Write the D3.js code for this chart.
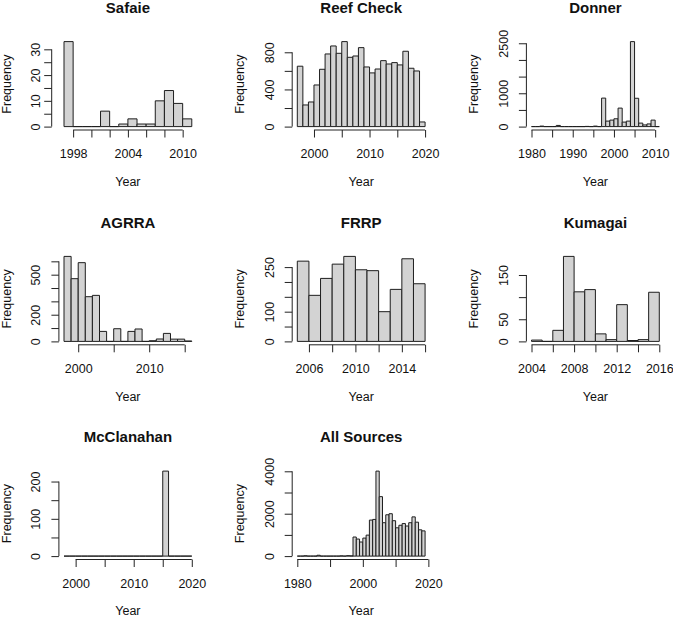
<!DOCTYPE html>
<html><head><meta charset="utf-8">
<script src="https://cdn.jsdelivr.net/npm/d3@7"></script>
<style>
body{margin:0;background:#fff}
svg{display:block}
text{font-family:"Liberation Sans",Arial,Helvetica,sans-serif;fill:#111}
</style>
</head><body>
<svg id="chart" width="673" height="618"></svg>
<script>
// ---------- data (bin start years and counts, 1-year bins) ----------
const titles = ["Safaie","Reef Check","Donner","AGRRA","FRRP","Kumagai","McClanahan","All Sources"];

const safaieYears  = [1997,1998,1999,2000,2001,2002,2003,2004,2005,2006,2007,2008,2009,2010];
const safaieCounts = [33,0,0,0,6,0,1,3,1,1,10,14,9,3];

const reefYears  = [1997,1998,1999,2000,2001,2002,2003,2004,2005,2006,2007,2008,2009,2010,2011,2012,2013,2014,2015,2016,2017,2018,2019];
const reefCounts = [650,233,265,448,617,782,868,789,915,746,760,850,642,578,620,710,674,689,664,811,628,599,50];

const donnerYears  = [1980,1981,1982,1983,1984,1985,1986,1987,1988,1989,1990,1991,1992,1993,1994,1995,1996,1997,1998,1999,2000,2001,2002,2003,2004,2005,2006,2007,2008,2009,2010];
const donnerCounts = [0,0,15,0,0,0,35,0,0,0,0,0,0,6,0,15,0,855,165,195,235,555,135,165,2550,850,105,50,80,195,0];

const agrraYears  = [1998,1999,2000,2001,2002,2003,2004,2005,2006,2007,2008,2009,2010,2011,2012,2013,2014,2015];
const agrraCounts = [637,470,590,335,345,75,0,95,0,75,93,0,5,18,60,17,17,3];

const frrpYears  = [2005,2006,2007,2008,2009,2010,2011,2012,2013,2014,2015];
const frrpCounts = [270,155,212,260,286,241,238,100,175,278,194];

const kumagaiYears  = [2004,2005,2006,2007,2008,2009,2010,2011,2012,2013,2014,2015];
const kumagaiCounts = [3,0,25,192,112,117,17,4,83,2,4,111];

const mccYears  = [1998,1999,2000,2001,2002,2003,2004,2005,2006,2007,2008,2009,2010,2011,2012,2013,2014,2015,2016,2017,2018,2019];
const mccCounts = [0,0,0,0,0,0,0,0,0,0,0,0,0,0,0,0,0,228,0,0,0,0];

const allYears  = [1980,1981,1982,1983,1984,1985,1986,1987,1988,1989,1990,1991,1992,1993,1994,1995,1996,1997,1998,1999,2000,2001,2002,2003,2004,2005,2006,2007,2008,2009,2010,2011,2012,2013,2014,2015,2016,2017,2018];
const allCounts = [0,0,15,0,0,0,40,0,0,0,0,0,0,10,0,20,10,900,805,665,850,990,1700,1730,4010,2805,1575,1950,2000,1670,1335,1455,1535,1420,1575,1850,1600,1240,1190];

// ---------- tick values and shown tick labels ----------
const safaieXTicks = [1998,2000,2002,2004,2006,2008,2010], safaieXLabels = [1998,2004,2010];
const safaieYTicks = [0,5,10,15,20,25,30],                  safaieYLabels = [0,10,20,30];
const reefXTicks = [2000,2005,2010,2015,2020],               reefXLabels = [2000,2010,2020];
const reefYTicks = [0,200,400,600,800],                      reefYLabels = [0,400,800];
const donnerXTicks = [1980,1985,1990,1995,2000,2005,2010],   donnerXLabels = [1980,1990,2000,2010];
const donnerYTicks = [0,500,1000,1500,2000,2500],            donnerYLabels = [0,1000,2500];
const agrraXTicks = [2000,2005,2010,2015],                   agrraXLabels = [2000,2010];
const agrraYTicks = [0,100,200,300,400,500,600],             agrraYLabels = [0,200,500];
const frrpXTicks = [2006,2008,2010,2012,2014,2016],          frrpXLabels = [2006,2010,2014];
const frrpYTicks = [0,50,100,150,200,250],                   frrpYLabels = [0,100,250];
const kumagaiXTicks = [2004,2006,2008,2010,2012,2014,2016],  kumagaiXLabels = [2004,2008,2012,2016];
const kumagaiYTicks = [0,50,100,150],                        kumagaiYLabels = [0,50,150];
const mccXTicks = [2000,2005,2010,2015,2020],                mccXLabels = [2000,2010,2020];
const mccYTicks = [0,50,100,150,200],                        mccYLabels = [0,100,200];
const allXTicks = [1980,1990,2000,2010,2020],                allXLabels = [1980,2000,2020];
const allYTicks = [0,1000,2000,3000,4000],                   allYLabels = [0,2000,4000];

const xLabel = "Year", yLabel = "Frequency";

// ---------- layout ----------
const colLeft = [58.9, 292.2, 526.4];
const rowBottom = [130, 344.8, 559.5];
const W = 138, H = 91.8;

const panels = [
  {t:titles[0], yrs:safaieYears, cnt:safaieCounts, xt:safaieXTicks, xl:safaieXLabels, yt:safaieYTicks, yl:safaieYLabels, c:0, r:0, yOff:-7.2},
  {t:titles[1], yrs:reefYears, cnt:reefCounts, xt:reefXTicks, xl:reefXLabels, yt:reefYTicks, yl:reefYLabels, c:1, r:0, yOff:0},
  {t:titles[2], yrs:donnerYears, cnt:donnerCounts, xt:donnerXTicks, xl:donnerXLabels, yt:donnerYTicks, yl:donnerYLabels, c:2, r:0, yOff:0},
  {t:titles[3], yrs:agrraYears, cnt:agrraCounts, xt:agrraXTicks, xl:agrraXLabels, yt:agrraYTicks, yl:agrraYLabels, c:0, r:1, yOff:0},
  {t:titles[4], yrs:frrpYears, cnt:frrpCounts, xt:frrpXTicks, xl:frrpXLabels, yt:frrpYTicks, yl:frrpYLabels, c:1, r:1, yOff:0},
  {t:titles[5], yrs:kumagaiYears, cnt:kumagaiCounts, xt:kumagaiXTicks, xl:kumagaiXLabels, yt:kumagaiYTicks, yl:kumagaiYLabels, c:2, r:1, yOff:0},
  {t:titles[6], yrs:mccYears, cnt:mccCounts, xt:mccXTicks, xl:mccXLabels, yt:mccYTicks, yl:mccYLabels, c:0, r:2, yOff:0},
  {t:titles[7], yrs:allYears, cnt:allCounts, xt:allXTicks, xl:allXLabels, yt:allYTicks, yl:allYLabels, c:1, r:2, yOff:0}
];

const svg = d3.select("#chart");
const axisColor = "#222", barStroke = "#1e1e1e", barFill = "#d3d3d3";
const fs = 12.5;

panels.forEach(p => {
  const L = colLeft[p.c], B = rowBottom[p.r];
  const x0 = p.yrs[0], x1 = p.yrs[p.yrs.length - 1] + 1;
  const ext = 0.04 * (x1 - x0);
  const x = d3.scaleLinear().domain([x0 - ext, x1 + ext]).range([L, L + W]);
  const m = d3.max(p.cnt);
  const y = d3.scaleLinear().domain([-0.04 * m, 1.04 * m]).range([B, B - H]);

  const g = svg.append("g");

  // bars (paths, so zero-count bins still show as a line on the baseline)
  g.selectAll("path.bar").data(p.yrs.map((yr, i) => ({yr, n: p.cnt[i]})))
    .join("path")
    .attr("class", "bar")
    .attr("d", d => {
      const pa = d3.path();
      pa.rect(x(d.yr), y(d.n), x(d.yr + 1) - x(d.yr), y(0) - y(d.n));
      return pa.toString();
    })
    .attr("fill", barFill)
    .attr("stroke", barStroke)
    .attr("stroke-width", 1);

  // x axis
  const xa = g.append("g").attr("transform", `translate(0,${B})`)
    .call(d3.axisBottom(x).tickValues(p.xt).tickSize(7.5)
      .tickFormat(d => p.xl.includes(d) ? String(d) : ""));
  xa.select(".domain").remove();
  xa.append("line").attr("x1", x(p.xt[0])).attr("x2", x(p.xt[p.xt.length - 1]))
    .attr("stroke", axisColor).attr("stroke-width", 1);
  xa.selectAll(".tick line").attr("stroke", axisColor);
  xa.selectAll(".tick text").attr("y", 28.3).attr("dy", null)
    .attr("font-size", fs).attr("font-family", null).attr("fill", "#111");

  // y axis
  const ya = g.append("g").attr("transform", `translate(${L + p.yOff},0)`)
    .call(d3.axisLeft(y).tickValues(p.yt).tickSize(7.5)
      .tickFormat(d => p.yl.includes(d) ? String(d) : ""));
  ya.select(".domain").remove();
  ya.append("line").attr("y1", y(p.yt[0])).attr("y2", y(p.yt[p.yt.length - 1]))
    .attr("stroke", axisColor).attr("stroke-width", 1);
  ya.selectAll(".tick line").attr("stroke", axisColor);
  ya.selectAll(".tick text").attr("x", null).attr("dy", null)
    .attr("text-anchor", "middle")
    .attr("transform", `translate(${-18.5 - p.yOff},0) rotate(-90)`)
    .attr("font-size", fs).attr("font-family", null).attr("fill", "#111");

  // titles and axis labels
  const cx = L + W / 2;
  g.append("text").attr("x", cx).attr("y", B - 117.3).attr("text-anchor", "middle")
    .attr("font-weight", "bold").attr("font-size", 15).text(p.t);
  g.append("text").attr("x", cx).attr("y", B + 55.8).attr("text-anchor", "middle")
    .attr("font-size", fs).text(xLabel);
  g.append("text").attr("text-anchor", "middle").attr("font-size", fs)
    .attr("transform", `translate(${L - 48.3},${B - H / 2}) rotate(-90)`).text(yLabel);
});
</script>
</body></html>
